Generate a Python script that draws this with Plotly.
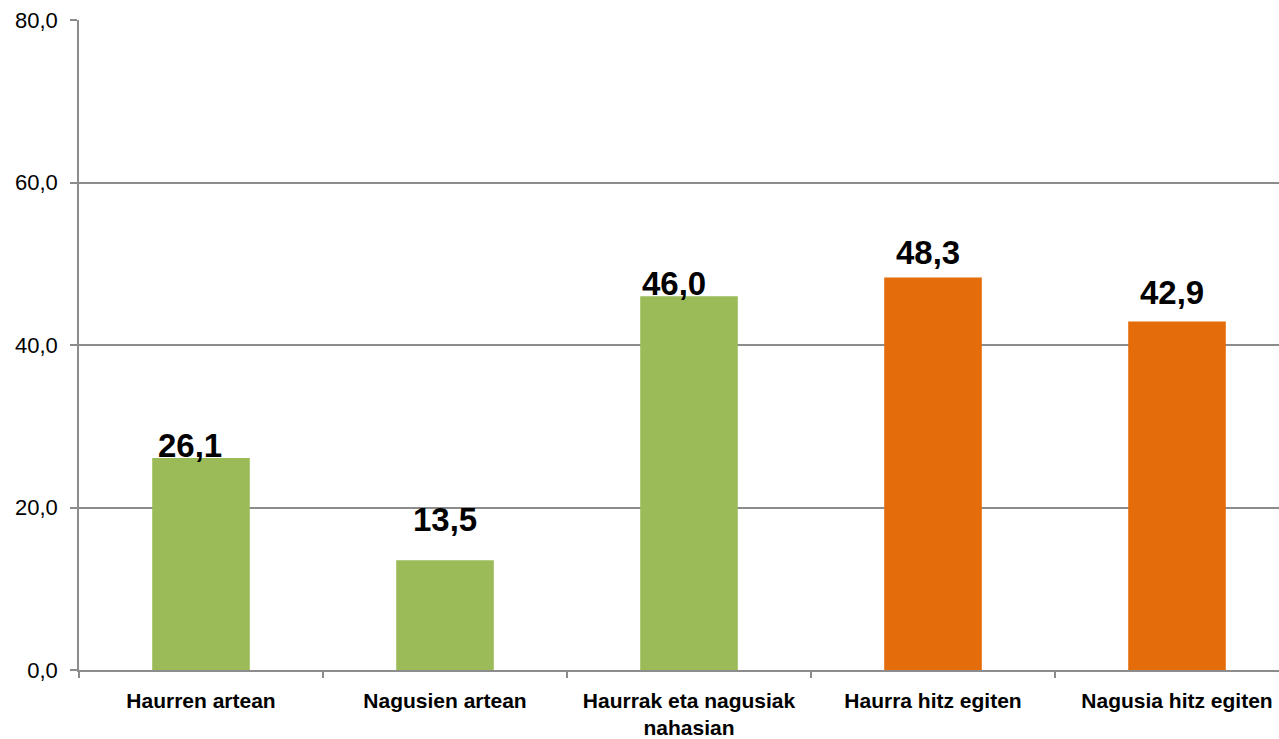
import plotly.graph_objects as go

categories = ["Haurren artean", "Nagusien artean", "Haurrak eta nagusiak<br>nahasian",
              "Haurra hitz egiten", "Nagusia hitz egiten"]
values = [26.1, 13.5, 46.0, 48.3, 42.9]
bar_colors = ["#9BBB59", "#9BBB59", "#9BBB59", "#E46C0A", "#E46C0A"]
y_ticks = [0, 20, 40, 60, 80]

# label styling offsets (pixels): horizontal shift, vertical shift above bar top
label_xshift = [-11, 0, -15, -5, -5]
label_yshift = [12, 41, 13, 25, 29]

FONT = "Liberation Sans"
GRAY = "#8C8C8C"

fig = go.Figure()
fig.add_trace(go.Bar(
    x=categories,
    y=values,
    marker=dict(color=bar_colors, line=dict(width=0)),
    width=0.4,
    hoverinfo="skip",
))

for i, v in enumerate(values):
    fig.add_annotation(
        x=categories[i], y=v, xref="x", yref="y",
        text="<b>" + f"{v:.1f}".replace(".", ",") + "</b>",
        showarrow=False,
        xanchor="center", yanchor="middle",
        xshift=label_xshift[i], yshift=label_yshift[i],
        font=dict(family=FONT, size=33, color="#000000"),
    )

fig.update_layout(
    width=1279, height=739,
    margin=dict(l=79, r=0, t=20, b=69),
    paper_bgcolor="white", plot_bgcolor="white",
    separators=",.",
    showlegend=False,
    font=dict(family=FONT, color="#000000"),
)

fig.update_xaxes(
    type="category",
    range=[-0.5, -0.5 + 1200 / 244],
    tickson="boundaries",
    tickfont=dict(family=FONT, size=21, color="#000000", weight="bold"),
    ticklabelstandoff=11,
    automargin=False,
    showline=True, linecolor=GRAY, linewidth=1.5,
    ticks="outside", ticklen=6, tickcolor=GRAY, tickwidth=1.5,
    showgrid=False, zeroline=False,
)
fig.update_yaxes(
    range=[0, 80],
    tickmode="array",
    tickvals=y_ticks,
    tickformat=".1f",
    tickfont=dict(family=FONT, size=22, color="#000000"),
    ticklabelstandoff=8,
    automargin=False,
    showline=True, linecolor=GRAY, linewidth=1.5,
    ticks="outside", ticklen=7, tickcolor=GRAY, tickwidth=1.5,
    showgrid=True, gridcolor=GRAY, gridwidth=1.5,
    zeroline=False,
)

fig.write_html("out.html", config={"displayModeBar": False},
               post_script="document.body.style.margin='0';document.body.style.overflow='hidden';")
